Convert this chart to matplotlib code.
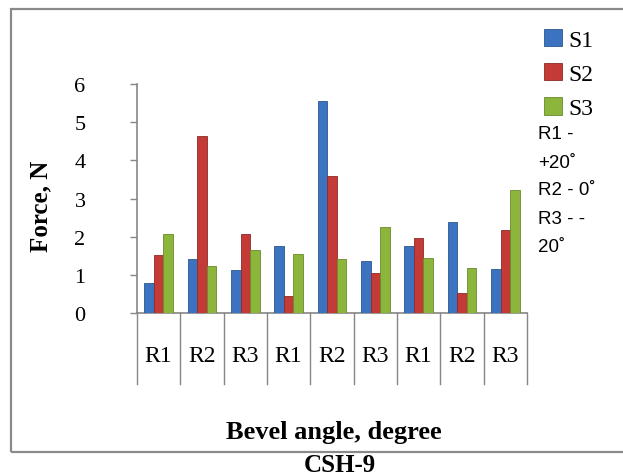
import matplotlib.pyplot as plt
import numpy as np
from matplotlib.patches import Rectangle

# Valeurs (Force, N)
categories = ["R1", "R2", "R3", "R1", "R2", "R3", "R1", "R2", "R3"]
s1 = [0.79, 1.42, 1.13, 1.76, 5.55, 1.37, 1.76, 2.39, 1.16]
s2 = [1.53, 4.63, 2.08, 0.45, 3.60, 1.05, 1.97, 0.53, 2.18]
s3 = [2.08, 1.24, 1.66, 1.55, 1.42, 2.26, 1.45, 1.18, 3.21]
series = ["S1", "S2", "S3"]
colors = ["#3b73c0", "#c33a36", "#8cb53c"]
edges = ["#2a578f", "#8f2a27", "#6a8a2c"]
notes = ["R1 -", "+20˚", "R2 - 0˚", "R3 - -", "20˚"]

W, H = 623, 477
fig = plt.figure(figsize=(W / 100, H / 100), dpi=100)

# cadre extérieur
fig.patches.append(Rectangle((11 / W, 1 - 453 / H), 620 / W, 443 / H,
                             transform=fig.transFigure, fill=False,
                             edgecolor="#8a8a8a", linewidth=1.6))

ax = fig.add_axes([137 / W, 1 - 314 / H, 390 / W, 229 / H])
x = np.arange(len(categories))
w = 0.22
for k, vals in enumerate([s1, s2, s3]):
    ax.bar(x + (k - 1) * w, vals, w, color=colors[k], edgecolor=edges[k],
           linewidth=0.6, label=series[k], zorder=3)

ax.set_xlim(-0.5, len(categories) - 0.5)
ax.set_ylim(0, 6)
ax.set_yticks(range(0, 7))
ax.set_yticklabels([str(v) for v in range(0, 7)], family="Liberation Serif",
                   fontsize=16)
ax.tick_params(axis="y", length=5, width=1, color="#868686", pad=36)
for lab in ax.get_yticklabels():
    lab.set_horizontalalignment("center")
ax.set_xticks([])
for s in ["top", "right"]:
    ax.spines[s].set_visible(False)
for s in ["left", "bottom"]:
    ax.spines[s].set_color("#868686")
    ax.spines[s].set_linewidth(1.2)

# séparateurs de catégories et libellés sous l'axe
drop = (385 - 314) / 229
for b in np.arange(-0.5, len(categories), 1):
    ax.plot([b, b], [0, -drop], transform=ax.get_xaxis_transform(),
            color="#868686", lw=1, clip_on=False)
for i, c in enumerate(categories):
    ax.text(i, -(357 - 314) / 229, c, transform=ax.get_xaxis_transform(),
            ha="center", va="center", family="Liberation Serif", fontsize=17)

fig.text(41 / W, 1 - 206 / H, "Force, N", rotation=90, ha="center",
         va="center", family="Liberation Serif", fontweight="bold", fontsize=18)
fig.text(334 / W, 1 - 433 / H, "Bevel angle, degree", ha="center",
         va="center", family="Liberation Serif", fontweight="bold", fontsize=19)
fig.text(340 / W, 1 - 466 / H, "CSH-9", ha="center", va="center",
         family="Liberation Serif", fontweight="bold", fontsize=18)

leg = ax.legend(loc="upper left", bbox_to_anchor=(544 / W, 1 - 30 / H),
                bbox_transform=fig.transFigure, frameon=False,
                prop={"family": "Liberation Serif", "size": 17},
                handlelength=0.75, handleheight=0.75, handletextpad=0.3,
                labelspacing=0.52, borderpad=0, borderaxespad=0)

for j, t in enumerate(notes):
    fig.text(538 / W, 1 - (135 + 28 * j) / H, t, ha="left", va="center",
             family="Liberation Sans", fontsize=13.5)

fig.savefig("out.png", dpi=100)
